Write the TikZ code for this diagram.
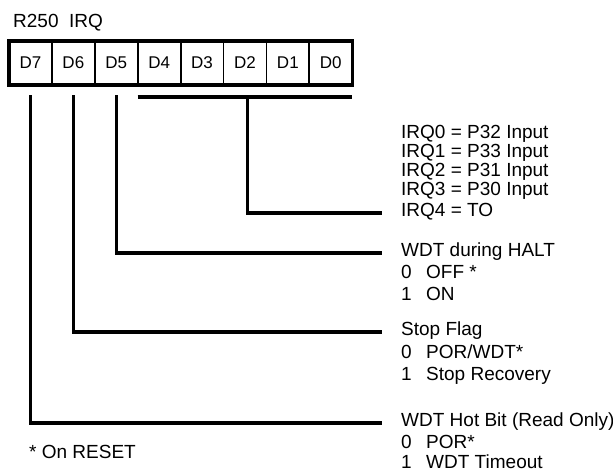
\documentclass[tikz,border=0pt]{standalone}
\usepackage{fontspec}
\setmainfont{Liberation Sans}
\usetikzlibrary{positioning}

\begin{document}
\begin{tikzpicture}[line join=miter,x=1pt,y=-1pt,
	cell/.style={draw,line width=1.8pt,minimum width=42.9pt,minimum height=44pt,inner sep=0pt,outer sep=0pt,font=\fontsize{17}{17}\selectfont},
	lbl/.style={anchor=base west,inner sep=0pt,font=\fontsize{19}{19}\selectfont},
	wire/.style={line width=3.2pt}]
			\useasboundingbox (0,0) rectangle (613,472);
			\node[lbl] (title) at (13,27.5) {R250\ \ IRQ};
			%register bits
			\foreach \b [count=\i from 0] in {7,...,0}
				\node[cell] (d\b) at ({30.45+42.9*\i},63) {D\b};
			\draw [line width=3.4pt] (d7.north west) rectangle (d0.south east);
			\foreach \n/\p [count=\k from 0] in {0/32,1/33,2/31,3/30}
				\node[lbl] (irq\n) at (401,{138.5+19*\k}) {IRQ\n\ = P\p\ Input};
			\node[lbl] (irq4) at (401,216) {IRQ4 = TO};
			\node[lbl] (halt) at (401,256) {WDT during HALT};
			\node[lbl] (halt0) at (401,278) {\makebox[25pt][l]{0}OFF *};
			\node[lbl] (halt1) at (401,300) {\makebox[25pt][l]{1}ON};
			\node[lbl] (stop) at (401,335) {Stop Flag};
			\node[lbl] (stop0) at (401,358.5) {\makebox[25pt][l]{0}POR/WDT*};
			\node[lbl] (stop1) at (401,380.5) {\makebox[25pt][l]{1}Stop Recovery};
			\node[lbl] (hot) at (401,426) {WDT Hot Bit (Read Only)};
			\node[lbl] (hot0) at (401,448) {\makebox[25pt][l]{0}POR*};
			\node[lbl] (hot1) at (401,468) {\makebox[25pt][l]{1}WDT Timeout};
			\node[lbl] (note) at (29,458.5) {* On RESET};
			%connectors
			\draw [wire] ([yshift=-12pt]d4.south west) -- ([yshift=-12pt]d0.south east);
			\draw [wire] ([xshift=2.5pt,yshift=-12pt]d2.south) |- ([shift={(-19pt,3pt)}]irq4.base west);
			\draw [wire] ([yshift=-10pt]d5.south) |- ([shift={(-19pt,3pt)}]halt.base west);
			\draw [wire] ([yshift=-10pt]d6.south) |- ([shift={(-19pt,3pt)}]stop.base west);
			\draw [wire] ([yshift=-10pt]d7.south) |- ([shift={(-19pt,3pt)}]hot.base west);
\end{tikzpicture}
\end{document}
